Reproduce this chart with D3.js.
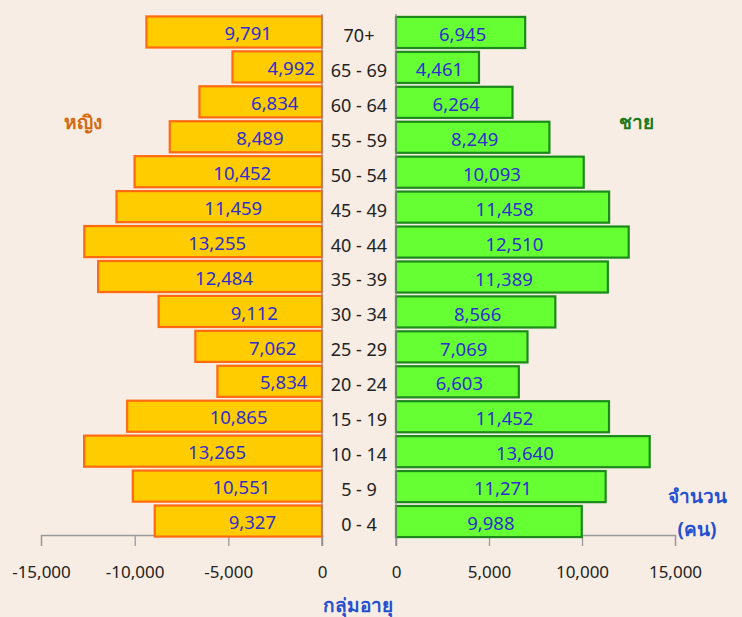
<!DOCTYPE html>
<html>
<head>
<meta charset="utf-8">
<script src="https://cdn.jsdelivr.net/npm/d3@7"></script>
<style>
  html, body { margin: 0; padding: 0; background: #f8ede4; }
  svg { display: block; font-family: Tahoma, "Noto Sans", "DejaVu Sans", sans-serif; }
</style>
</head>
<body>
<svg id="chart" width="742" height="617"></svg>
<script>
const ageGroups = ["70+", "65 - 69", "60 - 64", "55 - 59", "50 - 54", "45 - 49", "40 - 44", "35 - 39", "30 - 34", "25 - 29", "20 - 24", "15 - 19", "10 - 14", "5 - 9", "0 - 4"];
const female = [9791, 4992, 6834, 8489, 10452, 11459, 13255, 12484, 9112, 7062, 5834, 10865, 13265, 10551, 9327];
const male = [6945, 4461, 6264, 8249, 10093, 11458, 12510, 11389, 8566, 7069, 6603, 11452, 13640, 11271, 9988];
const leftTicks = [-15000, -10000, -5000, 0];
const rightTicks = [0, 5000, 10000, 15000];
const labelFemale = "หญิง";
const labelMale = "ชาย";
const labelCount1 = "จำนวน";
const labelCount2 = "(คน)";
const labelAge = "กลุ่มอายุ";

const svg = d3.select("#chart");
const fmt = d3.formatLocale({decimal: ".", thousands: ",", grouping: [3], currency: ["", ""], minus: "-"}).format(",");

const y = d3.scaleBand().domain(ageGroups).range([14, 538]).paddingInner(0.11).paddingOuter(0.055);
const xLeftAxis = d3.scaleLinear().domain([-15000, 0]).range([41, 322]);
const xFemale = d3.scaleLinear().domain([0, 15000]).range([322, 322 - 269]);
const xMale = d3.scaleLinear().domain([0, 15000]).range([396, 675]);

const axisY = 535;

// axes
const gL = svg.append("g").attr("transform", `translate(0,${axisY})`)
  .call(d3.axisBottom(xLeftAxis).tickValues(leftTicks).tickFormat(fmt).tickSize(11).tickPadding(20));
const gR = svg.append("g").attr("transform", `translate(0,${axisY})`)
  .call(d3.axisBottom(xMale).tickValues(rightTicks).tickFormat(fmt).tickSize(11).tickPadding(20));
[gL, gR].forEach(g => {
  g.select(".domain").attr("stroke", "#9a9a9a").attr("stroke-width", 1.3);
  g.selectAll(".tick line").attr("stroke", "#9a9a9a").attr("stroke-width", 1.3);
  g.selectAll(".tick text").attr("fill", "#222").attr("font-size", 17).attr("font-family", "Tahoma, 'Noto Sans', sans-serif");
});

// female bars
svg.append("g").selectAll("rect").data(female).join("rect")
  .attr("x", d => xFemale(d))
  .attr("y", (d, i) => y(ageGroups[i]) + 0.5)
  .attr("width", d => xFemale(0) - xFemale(d))
  .attr("height", y.bandwidth())
  .attr("fill", "#ffcc00")
  .attr("stroke", "#ff6a12")
  .attr("stroke-width", 2.2);

// male bars
svg.append("g").selectAll("rect").data(male).join("rect")
  .attr("x", xMale(0))
  .attr("y", (d, i) => y(ageGroups[i]) + 1)
  .attr("width", d => xMale(d) - xMale(0))
  .attr("height", y.bandwidth())
  .attr("fill", "#66ff33")
  .attr("stroke", "#1b8a1b")
  .attr("stroke-width", 2.2);

// center lines
svg.append("line").attr("x1", xFemale(0)).attr("x2", xFemale(0)).attr("y1", 14).attr("y2", axisY + 11)
  .attr("stroke", "#8c8c8c").attr("stroke-width", 1.3);
svg.append("line").attr("x1", xMale(0)).attr("x2", xMale(0)).attr("y1", 14).attr("y2", axisY + 11)
  .attr("stroke", "#8c8c8c").attr("stroke-width", 1.3);

// value labels
svg.append("g").selectAll("text").data(female).join("text")
  .attr("x", d => (xFemale(d) + xFemale(0)) / 2 + 14)
  .attr("y", (d, i) => y(ageGroups[i]) + y.bandwidth() / 2 + 2)
  .attr("dy", "0.36em")
  .attr("text-anchor", "middle")
  .attr("font-size", 18.5)
  .attr("fill", "#2f2fcf")
  .text(d => fmt(d));

svg.append("g").selectAll("text").data(male).join("text")
  .attr("x", d => (xMale(d) + xMale(0)) / 2 + 2)
  .attr("y", (d, i) => y(ageGroups[i]) + y.bandwidth() / 2 + 3)
  .attr("dy", "0.36em")
  .attr("text-anchor", "middle")
  .attr("font-size", 18.5)
  .attr("fill", "#2f2fcf")
  .text(d => fmt(d));

// age labels
svg.append("g").selectAll("text").data(ageGroups).join("text")
  .attr("x", 359)
  .attr("y", d => y(d) + y.bandwidth() / 2 + 4)
  .attr("dy", "0.36em")
  .attr("text-anchor", "middle")
  .attr("font-size", 18)
  .attr("fill", "#222")
  .text(d => d);

// titles
svg.append("text").attr("x", 83).attr("y", 122).attr("dy", "0.36em").attr("text-anchor", "middle")
  .attr("font-size", 19).attr("font-weight", "bold").attr("fill", "#d46a10").text(labelFemale);
svg.append("text").attr("x", 636).attr("y", 122).attr("dy", "0.36em").attr("text-anchor", "middle")
  .attr("font-size", 19).attr("font-weight", "bold").attr("fill", "#1b7a1b").text(labelMale);
svg.append("text").attr("x", 697).attr("y", 496).attr("dy", "0.36em").attr("text-anchor", "middle")
  .attr("font-size", 19).attr("font-weight", "bold").attr("fill", "#2450d0").text(labelCount1);
svg.append("text").attr("x", 697).attr("y", 529).attr("dy", "0.36em").attr("text-anchor", "middle")
  .attr("font-size", 19).attr("font-weight", "bold").attr("fill", "#2450d0").text(labelCount2);
svg.append("text").attr("x", 358).attr("y", 605).attr("dy", "0.36em").attr("text-anchor", "middle")
  .attr("font-size", 19).attr("font-weight", "bold").attr("fill", "#2450d0").text(labelAge);
</script>
</body>
</html>
